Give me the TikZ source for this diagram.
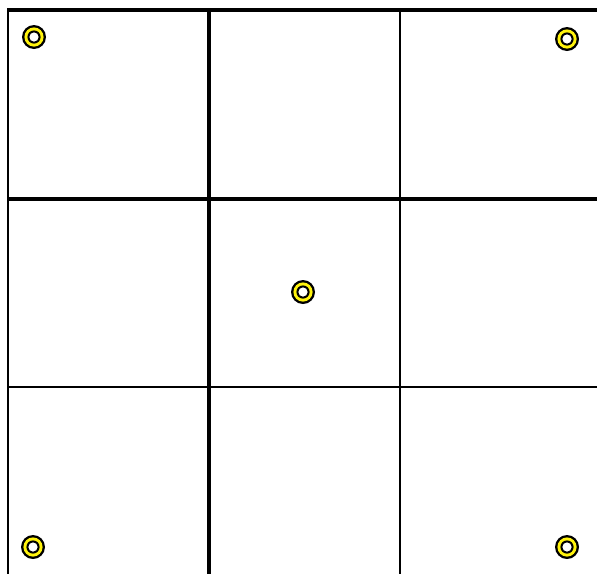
\documentclass[tikz,border=0pt]{standalone}
\begin{document}
\begin{tikzpicture}[x=1pt,y=-1pt,
  gridline/.style={line width=3.2pt,black},
  thinline/.style={line width=2.6pt,black},
  ring/.pic={
    \fill[black] (0,0) circle (12);
    \fill[yellow!95!white] (0,0) circle (9.6);
    \fill[black] (0,0) circle (6.6);
    \fill[white] (0,0) circle (4.6);
  }]
\useasboundingbox (0,0) rectangle (597,574);
\fill[white] (0,0) rectangle (597,574);
\coordinate (tl) at (7,10);
\coordinate (tr) at (597,10);
\coordinate (bl) at (8,574);
\draw[gridline] (tl) -- (tr);
\draw[thinline] (8,9) -- (bl);
\draw[gridline] (7,199) -- (597,199);
\draw[thinline] (7,387) -- (597,387);
\draw[gridline] (209,9) -- (209,574);
\draw[thinline] (400,9) -- (400,574);
\pic (r1) at (34,37) {ring};
\pic (r2) at (567,39) {ring};
\pic (r3) at (303,292) {ring};
\pic (r4) at (33,547) {ring};
\pic (r5) at (567,547) {ring};
\end{tikzpicture}
\end{document}
